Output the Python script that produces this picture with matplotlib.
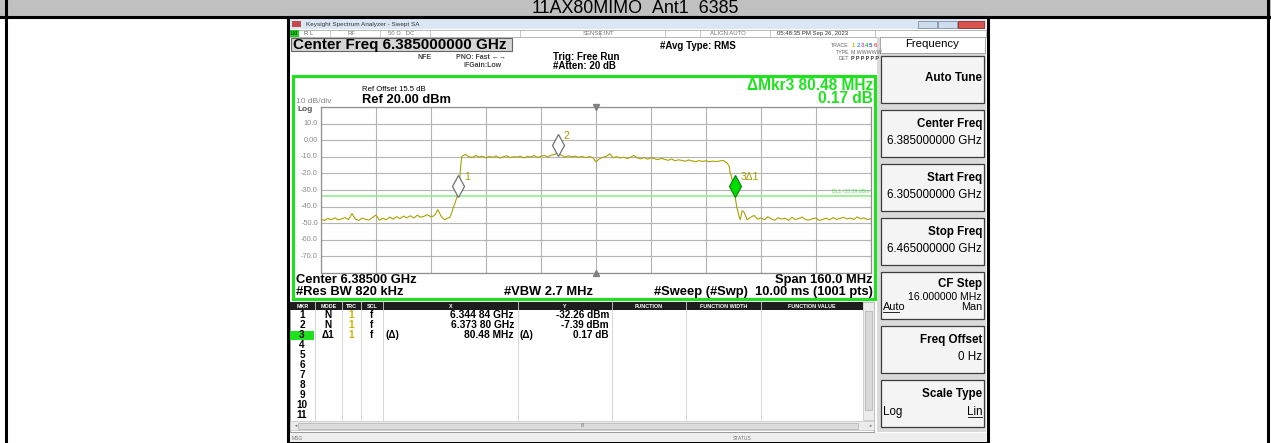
import numpy as np
import matplotlib
matplotlib.use("Agg")
import matplotlib.pyplot as plt
from matplotlib.patches import Rectangle
from matplotlib.transforms import ScaledTranslation

plt.rcParams["font.family"] = ["Liberation Sans", "DejaVu Sans"]

W, H = 1271, 443

# sweep settings shown on screen
start_ghz = 6.305
stop_ghz = 6.465
ref_dbm = 20.0
db_div = 10
dl1_dbm = -33.39
y_ticks = [10, 0, -10, -20, -30, -40, -50, -60, -70]
y_tick_labels = ["10.0", "0.00", "-10.0", "-20.0", "-30.0", "-40.0", "-50.0", "-60.0", "-70.0"]

# trace 1, one value per MHz from 6.305 to 6.465 GHz
trace_dbm = [
    -47.6, -48.3, -47.1, -47.9, -46.8, -48.0, -47.4, -46.6, -47.8, -44.2,
    -47.5, -48.4, -46.9, -47.7, -48.1, -46.5, -45.1, -48.2, -47.0, -47.9,
    -46.3, -47.6, -46.0, -47.3, -45.7, -46.8, -45.5, -46.9, -45.2, -46.4,
    -45.8, -44.9, -46.3, -45.4, -41.9, -46.0, -47.9, -46.8,
    -44.0, -37.8, -30.0,
    -9.6, -8.6, -9.9, -10.4, -9.3, -10.1, -9.7,
    -10.6, -9.8, -10.3, -9.5, -10.8, -10.0, -9.4, -10.5, -9.9, -10.2,
    -9.6, -10.7, -9.8, -10.1, -9.3, -10.4, -9.7, -9.2, -10.0, -9.0,
    -8.6, -8.3, -9.1, -10.2, -9.4, -10.0, -9.6, -10.3, -9.8, -10.5, -9.9, -10.4,
    -13.0, -11.2, -10.3, -9.7, -8.2, -10.6, -9.9, -10.8, -10.2, -11.0,
    -10.4, -9.1, -10.7, -11.2, -10.5, -11.4, -10.6, -11.1, -11.7, -10.9,
    -11.6, -12.1, -11.3, -12.4, -11.8, -12.2, -12.7, -11.9, -12.5, -12.9,
    -12.3, -12.8, -12.4, -13.0, -12.6, -12.9, -12.5, -12.2, -13.6,
    -19.5, -29.5, -41.0, -47.8,
    -43.2, -47.9, -46.4, -45.3, -47.6, -46.8, -47.9, -46.1, -47.4, -48.2,
    -46.7, -47.5, -47.0, -48.3, -46.5, -47.8, -47.2, -46.3, -47.9, -48.1,
    -47.3, -46.9, -48.4, -47.6, -47.0, -48.0, -46.6, -47.7, -47.1, -46.4,
    -47.5, -46.9, -47.8, -46.2, -47.4, -46.8, -47.9, -47.2,
]
# extra points on the two skirts
edge_ghz = [6.3425, 6.3435, 6.3445, 6.3452, 6.3455, 6.3458,
            6.4232, 6.4238, 6.4243, 6.4248, 6.4257, 6.4262, 6.4266, 6.4275]
edge_dbm = [-46.5, -40.5, -34.5, -26.5, -19.0, -12.5,
            -13.8, -16.0, -21.0, -26.0, -37.0, -42.0, -46.0, -42.5]

# marker table
mkr_ghz = [6.34484, 6.37380, 6.42532]
mkr_dbm = [-32.26, -7.39, -32.09]
mkr_labels = ["1", "2", "3\u03941"]
table_rows = [
    ["1", "N", "1", "f", "", "6.344 84 GHz", "", "-32.26 dBm"],
    ["2", "N", "1", "f", "", "6.373 80 GHz", "", "-7.39 dBm"],
    ["3", "\u03941", "1", "f", "(\u0394)", "80.48 MHz", "(\u0394)", "0.17 dB"],
]
table_header = ["MKR", "MODE", "TRC", "SCL", "X", "Y", "FUNCTION", "FUNCTION WIDTH", "FUNCTION VALUE"]

# softkeys: title, value
softkeys = [
    ("Auto Tune", ""),
    ("Center Freq", "6.385000000 GHz"),
    ("Start Freq", "6.305000000 GHz"),
    ("Stop Freq", "6.465000000 GHz"),
    ("CF Step", "16.000000 MHz"),
    ("Freq Offset", "0 Hz"),
    ("Scale Type", ""),
]

GREEN = "#1ee21e"
TRACE = "#aaa200"

fig = plt.figure(figsize=(W / 100, H / 100), dpi=100)
bg = fig.add_axes([0, 0, 1, 1])
bg.set_xlim(0, W)
bg.set_ylim(H, 0)
bg.axis("off")


def box(x0, y0, x1, y1, fc="white", ec="none", lw=1.0, z=1):
    bg.add_patch(Rectangle((x0, y0), x1 - x0, y1 - y0, fc=fc, ec=ec, lw=lw, zorder=z))


def txt(x, y, s, size=6, ha="left", color="black", bold=False, z=5, **kw):
    bg.text(x, y, s, fontsize=size, ha=ha, va="center", color=color,
            fontweight="bold" if bold else "normal", zorder=z, **kw)


# outer frame and title band
box(0, 0, W, 16, fc="#c0c0c0")
bg.plot([0, W], [16.5, 16.5], color="black", lw=2.2, zorder=3)
bg.plot([6, 6], [0, H], color="black", lw=2.2, zorder=3)
bg.plot([1268, 1268], [0, H], color="black", lw=2.2, zorder=3)
txt(635, 8, "11AX80MIMO_Ant1_6385", size=12.9, ha="center", clip_on=True)

# analyzer window
box(288, 17, 988, 443, fc="white", ec="black", lw=2.2)
box(290, 19, 986, 29, fc="#dbe6f4")
box(292, 21, 301, 27, fc="#c44a4a")
txt(306, 24, "Keysight Spectrum Analyzer - Swept SA", size=4.6, color="#333333")
box(918, 21, 937, 28, fc="#cfdcec", ec="#7f8fa6", lw=0.6)
box(938, 21, 957, 28, fc="#cfdcec", ec="#7f8fa6", lw=0.6)
box(958, 21, 984, 28, fc="#d9544d", ec="#8a2a25", lw=0.6)

# status row
box(290, 30, 986, 37, fc="white", ec="#9a9a9a", lw=0.5)
box(290, 30, 299, 37, fc="#22cc22")
for xs in [330, 380, 430, 520, 600, 665, 700, 770, 875]:
    bg.plot([xs, xs], [30, 37], color="#b0b0b0", lw=0.5, zorder=2)
txt(291, 33.5, "LXI", size=3.5)
txt(304, 33.5, "R L", size=4.3, color="#555555")
txt(347, 33.5, "RF", size=4.3, color="#777777")
txt(388, 33.5, "50 \u03a9   DC", size=4.3, color="#777777")
txt(583, 33.5, "SENSE:INT", size=4.3, color="#777777")
txt(710, 33.5, "ALIGN AUTO", size=4.3, color="#777777")
txt(777, 33.5, "05:48:35 PM Sep 26, 2023", size=4.3, color="#333333")

# settings area
box(291, 38, 512, 51, fc="#d6d6d6", ec="#666666", lw=0.8)
txt(293, 45, "Center Freq 6.385000000 GHz", size=11, bold=True)
txt(417, 57, "NFE", size=5, color="#444444", bold=True)
txt(456, 57, "PNO: Fast \u2190\u2192", size=5, color="#444444", bold=True)
txt(463, 65.5, "IFGain:Low", size=5, color="#444444", bold=True)
txt(553, 57, "Trig: Free Run", size=7, bold=True)
txt(553, 66, "#Atten: 20 dB", size=7, bold=True)
txt(660, 46, "#Avg Type: RMS", size=7, bold=True)
txt(849, 45, "TRACE", size=3.8, ha="right", color="#666666")
txt(849, 52, "TYPE", size=3.8, ha="right", color="#666666")
txt(849, 58.5, "DET", size=3.8, ha="right", color="#666666")
for k, c in enumerate(["#c8b400", "#2aa3e6", "#d94fd0", "#25b825", "#3c5bd6", "#e05555"]):
    txt(852 + k * 4.3, 45, str(k + 1), size=4.4, color=c, bold=True)
txt(851, 52, "M WWWWW", size=3.8, color="#666666")
txt(851, 58.5, "P P P P P P", size=3.8, color="#333333", bold=True)

# green display panel
box(293, 76, 875, 299, fc="white", ec=GREEN, lw=2.2)
txt(873, 85, "\u0394Mkr3 80.48 MHz", size=11.2, ha="right", color=GREEN, bold=True)
txt(873, 98.5, "0.17 dB", size=11.2, ha="right", color=GREEN, bold=True)
txt(362, 89, "Ref Offset 15.5 dB", size=5.6)
txt(362, 100, "Ref 20.00 dBm", size=9.3, bold=True)
txt(296, 101, "10 dB/div", size=6, color="#888888")
txt(297, 109.5, "Log", size=6, color="#555555", bold=True)
txt(296, 280, "Center 6.38500 GHz", size=9.3, bold=True)
txt(873, 280, "Span 160.0 MHz", size=9.3, ha="right", bold=True)
txt(296, 292, "#Res BW 820 kHz", size=9.3, bold=True)
txt(548, 292, "#VBW 2.7 MHz", size=9.3, ha="center", bold=True)
txt(873, 292, "#Sweep (#Swp)  10.00 ms (1001 pts)", size=9.3, ha="right", bold=True)

# marker table
col_x = [290, 315, 342, 361, 383, 518, 612, 686, 761, 863, 874]
box(290, 302, 874, 432, fc="white", ec="#888888", lw=0.6)
box(290, 302, 863, 310, fc="#1e1e1e")
for k, name in enumerate(table_header):
    txt((col_x[k] + col_x[k + 1]) / 2, 306, name, size=3.9, ha="center", color="white", bold=True)
    if k > 0:
        bg.plot([col_x[k], col_x[k]], [302, 420], color="#d0d0d0", lw=0.6, zorder=2)
row_y0, row_dy = 315.5, 10.0
box(290, row_y0 + 2 * row_dy - 4.5, 314, row_y0 + 2 * row_dy + 4.5, fc=GREEN, z=2)
for r in range(11):
    y = row_y0 + r * row_dy
    txt(302, y, str(r + 1), size=7.2, ha="center", bold=True)
    if r < len(table_rows):
        row = table_rows[r]
        txt(328, y, row[1], size=7.2, ha="center", bold=True)
        txt(351, y, row[2], size=7.2, ha="center", color="#c8b400", bold=True)
        txt(371, y, row[3], size=7.2, ha="center", bold=True)
        txt(386, y, row[4], size=7.2, bold=True)
        txt(514, y, row[5], size=7.4, ha="right", bold=True)
        txt(520, y, row[6], size=7.2, bold=True)
        txt(609, y, row[7], size=7.2, ha="right", bold=True)
box(863, 302, 874, 420, fc="#ececec", ec="#c0c0c0", lw=0.5)
box(865, 311, 872, 410, fc="#d8d8d8", ec="#b0b0b0", lw=0.5)
box(290, 421, 874, 430, fc="#ececec", ec="#c0c0c0", lw=0.5)
box(298, 422.5, 858, 428.5, fc="#dcdcdc", ec="#b0b0b0", lw=0.5)
txt(293, 425.5, "\u25c4", size=3, color="#777777")
txt(583, 425.5, "III", size=3.5, ha="center", color="#777777")
txt(868, 425.5, "\u25ba", size=3, color="#777777")

# message bar
box(290, 433, 986, 442, fc="#eeeeee")
txt(292, 438, "MSG", size=3.6, color="#777777")
txt(733, 438, "STATUS", size=3.6, color="#777777")

# softkey column
box(877, 37, 986, 432, fc="#dadada")
box(880, 37, 985, 53, fc="white", ec="#9a9a9a", lw=0.6)
txt(932, 44, "Frequency", size=8.2, ha="center")
for k, (title, value) in enumerate(softkeys):
    top = 56 + k * 54
    box(881, top, 984, top + 47, fc="#f4f4f4", ec="#3c3c3c", lw=0.9)
    if title == "Auto Tune":
        txt(982, top + 22, title, size=8.4, ha="right", bold=True)
        continue
    if title == "CF Step":
        txt(982, top + 12.5, title, size=8.4, ha="right", bold=True)
        txt(982, top + 24.5, value, size=7.6, ha="right")
        txt(883, top + 35.5, "Auto", size=7.8)
        bg.plot([883, 899], [top + 40, top + 40], color="black", lw=0.6, zorder=5)
        txt(982, top + 35.5, "Man", size=7.8, ha="right")
        continue
    txt(982, top + 14, title, size=8.4, ha="right", bold=True)
    if title == "Scale Type":
        txt(883, top + 32, "Log", size=8.3)
        txt(982, top + 32, "Lin", size=8.3, ha="right")
        bg.plot([968, 982], [top + 37, top + 37], color="black", lw=0.6, zorder=5)
    else:
        txt(982, top + 31, value, size=8.4, ha="right")

# graticule with the trace
gx0, gx1, gy0, gy1 = 321, 871, 107, 273
ax = fig.add_axes([gx0 / W, 1 - gy1 / H, (gx1 - gx0) / W, (gy1 - gy0) / H])
ax.set_xlim(start_ghz, stop_ghz)
ax.set_ylim(ref_dbm - 10 * db_div, ref_dbm)
ax.set_xticks(np.linspace(start_ghz, stop_ghz, 11))
ax.set_yticks(np.arange(ref_dbm - 10 * db_div, ref_dbm + 1, db_div))
ax.grid(True, color="#b4b4b4", lw=0.8)
ax.tick_params(length=0, labelbottom=False, labelleft=False)
for s in ax.spines.values():
    s.set_color("#909090")
    s.set_linewidth(0.9)
ax.set_axisbelow(True)

grid_ghz = np.linspace(start_ghz, stop_ghz, len(trace_dbm))
f_all = np.concatenate([grid_ghz, edge_ghz, mkr_ghz])
l_all = np.concatenate([trace_dbm, edge_dbm, mkr_dbm])
order = np.argsort(f_all)
ax.plot(f_all[order], l_all[order], color=TRACE, lw=0.8, zorder=3)

ax.axhline(dl1_dbm, color="#8fef8f", lw=1.2, zorder=2)
ax.text(0.997, dl1_dbm + 1.2, "DL1 -33.39 dBm", transform=ax.get_yaxis_transform(),
        ha="right", va="bottom", fontsize=3.7, color="#55dd55")

mid = (start_ghz + stop_ghz) / 2
ax.plot([mid], [ref_dbm], marker="v", ms=4, color="#808080", clip_on=False, zorder=4)
ax.plot([mid], [ref_dbm - 10 * db_div], marker="^", ms=4, color="#808080", clip_on=False, zorder=4)

up = ax.transData + ScaledTranslation(0, 0.075, fig.dpi_scale_trans)
for k in range(len(mkr_ghz)):
    filled = k == 2
    ax.plot([mkr_ghz[k]], [mkr_dbm[k]], marker="d", ms=11,
            mfc="#00dd00" if filled else "white",
            mec="#118811" if filled else "#707070", mew=0.9,
            transform=up, zorder=5, clip_on=False)
    ax.annotate(mkr_labels[k], (mkr_ghz[k], mkr_dbm[k]), xytext=(4.5, 12),
                textcoords="offset points", ha="left", va="center",
                fontsize=7.5, color="#a39b00", zorder=6)

for val, lab in zip(y_ticks, y_tick_labels):
    bg.text(318, gy0 + (ref_dbm - val) / (10 * db_div) * (gy1 - gy0), lab,
            fontsize=5.3, ha="right", va="center", color="#8a8a8a")

fig.savefig("out.png", dpi=100)
